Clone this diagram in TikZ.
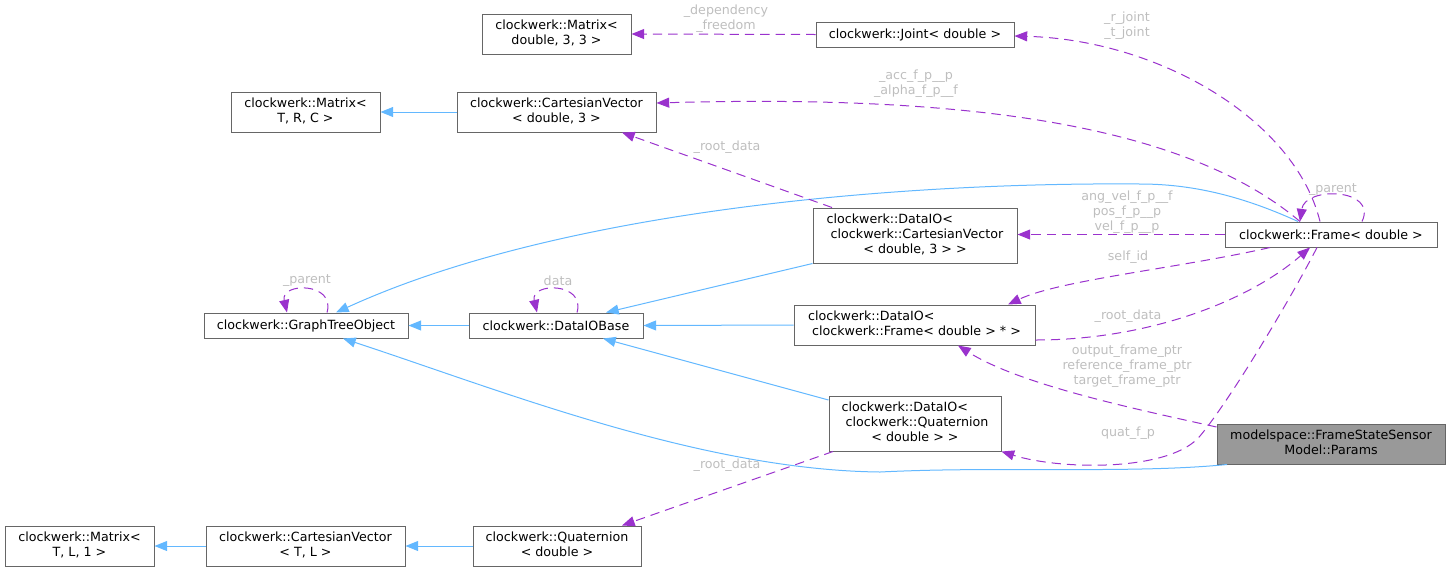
\documentclass[tikz,border=0pt]{standalone}
\usepackage{fontspec}
\setmainfont{DejaVu Sans}
\usetikzlibrary{arrows.meta}
\definecolor{boxgray}{HTML}{666666}
\definecolor{paramfill}{HTML}{999999}
\definecolor{inhblue}{HTML}{63B8FF}
\definecolor{usepurple}{HTML}{9A32CD}
\definecolor{lblgray}{HTML}{BEBEBE}
\newcommand\clsfont{\fontsize{9.5}{11.25}\selectfont}
\newcommand\clstab[1]{\begin{tabular}{@{}l@{}}#1\end{tabular}}
\newcommand\ctrline[1]{\multicolumn{1}{@{}c@{}}{#1}}
\begin{document}
\begin{tikzpicture}[x=0.75pt,y=-0.75pt,
 cls/.style={draw=boxgray, fill=white, line width=0.75pt, inner sep=0pt, font=\clsfont, text=black},
 inh/.style={draw=inhblue, line width=0.75pt, -{Triangle[length=9.5pt,width=7.5pt]}},
 use/.style={draw=usepurple, line width=0.75pt, dash pattern=on 7pt off 4.5pt, -{Triangle[length=9.5pt,width=7.5pt]}},
 lbl/.style={text=lblgray, font=\clsfont, align=center, inner sep=0pt}]
\useasboundingbox (0,0) rectangle (1451,572);

% classes
\node[cls, minimum width=111.75pt, minimum height=30pt] (md33) at (556.5,34) {\clstab{clockwerk::Matrix<\\\ctrline{double, 3, 3 >}}};
\node[cls, minimum width=148.5pt, minimum height=18.75pt] (joint) at (915,34.5) {clockwerk::Joint< double >};
\node[cls, minimum width=111.75pt, minimum height=30pt] (mtrc) at (305.5,112) {\clstab{clockwerk::Matrix<\\\ctrline{T, R, C >}}};
\node[cls, minimum width=149.25pt, minimum height=30pt] (cvd3) at (556.5,112) {\clstab{clockwerk::CartesianVector\\\ctrline{< double, 3 >}}};
\node[cls, minimum width=153pt, minimum height=18.75pt] (gto) at (306,325.5) {clockwerk::GraphTreeObject};
\node[cls, minimum width=130.5pt, minimum height=18.75pt] (dbase) at (556,325.5) {clockwerk::DataIOBase};
\node[cls, minimum width=153pt, minimum height=41.25pt] (diocv) at (915,235.5) {\clstab{clockwerk::DataIO<\\\ clockwerk::CartesianVector\\\ctrline{< double, 3 > >}}};
\node[cls, minimum width=180.75pt, minimum height=30pt] (dioframe) at (914.5,325) {\clstab{clockwerk::DataIO<\\\ clockwerk::Frame< double > * >}};
\node[cls, minimum width=159pt, minimum height=18.75pt] (frame) at (1331,234.5) {clockwerk::Frame< double >};
\node[cls, minimum width=129pt, minimum height=41.25pt] (dioquat) at (915,423.5) {\clstab{clockwerk::DataIO<\\\ clockwerk::Quaternion\\\ctrline{< double > >}}};
\node[cls, fill=paramfill, minimum width=171pt, minimum height=30pt] (params) at (1331,444) {\clstab{modelspace::FrameStateSensor\\\ctrline{Model::Params}}};
\node[cls, minimum width=111.75pt, minimum height=30pt] (mtl1) at (79.5,546) {\clstab{clockwerk::Matrix<\\\ctrline{T, L, 1 >}}};
\node[cls, minimum width=149.25pt, minimum height=30pt] (cvtl) at (305.5,546) {\clstab{clockwerk::CartesianVector\\\ctrline{< T, L >}}};
\node[cls, minimum width=126pt, minimum height=30pt] (quat) at (557,546) {\clstab{clockwerk::Quaternion\\\ctrline{< double >}}};

% inheritance
\draw[inh] (cvd3.west) -- (mtrc.east);
\draw[inh] (dbase.west) -- (gto.east);
\draw[inh] (diocv.south west) -- (dbase.north -| 606,0);
\draw[inh] (dioframe.west) -- (dbase.east);
\draw[inh] (dioquat.west |- 0,400) -- (dbase.south -| 603,0);
\draw[inh] (quat.west) -- (cvtl.east);
\draw[inh] (cvtl.west) -- (mtl1.east);
\draw[inh] (frame.north -| 1298,0) .. controls (1240,195) and (1190,184) .. (1140,184)
  .. controls (900,182) and (560,210) .. (gto.north -| 336,0);
\draw[inh] (params.south -| 1227,0) .. controls (1130,474) and (1000,466) .. (880,472)
  .. controls (700,470) and (500,390) .. (gto.south -| 343,0);

% usage
\draw[use] (joint.west) -- (md33.east);
\draw[use] (frame.north -| 1320,0) .. controls (1295,120) and (1160,40) .. (joint.east |- 0,36);
\draw[use] (frame.north -| 1300,0) .. controls (1180,120) and (950,95) .. (cvd3.east |- 0,103);
\draw[use] (diocv.north -| 832,0) -- (cvd3.south -| 622,0);
\draw[use] (gto.north -| 327,0) .. controls (336,282) and (280,282) .. (gto.north -| 287,0);
\draw[use] (dbase.north -| 577,0) .. controls (586,282) and (530,282) .. (dbase.north -| 537,0);
\draw[use] (frame.north -| 1362,0) .. controls (1378,188) and (1305,186) .. (frame.north -| 1300,0);
\draw[use] (frame.west) -- (frame.west -| diocv.east);
\draw[use] (frame.south -| 1270,0) .. controls (1180,268) and (1060,280) .. (dioframe.north -| 1008,0);
\draw[use] (dioframe.east |- 0,340) .. controls (1150,340) and (1250,300) .. (frame.south -| 1310,0);
\draw[use] (params.west |- 0,427) .. controls (1140,410) and (1020,385) .. (dioframe.south -| 958,0);
\draw[use] (frame.south -| 1317,0) .. controls (1290,300) and (1230,400) .. (1200,436)
  .. controls (1170,472) and (1060,470) .. (dioquat.south east);
\draw[use] (dioquat.south -| 833,0) -- (quat.north -| 622,0);

% labels
\node[lbl] (l1) at (726,19) {\_dependency\\\_freedom};
\node[lbl] (l2) at (1127,26) {\_r\_joint\\\_t\_joint};
\node[lbl] (l3) at (916,84) {\_acc\_f\_p\_\_p\\\_alpha\_f\_p\_\_f};
\node[lbl] (l4) at (727,147) {\_root\_data};
\node[lbl] (l5) at (307,281) {\_parent};
\node[lbl] (l6) at (558,281) {data};
\node[lbl] (l7) at (1333,190) {\_parent};
\node[lbl] (l8) at (1127,212) {ang\_vel\_f\_p\_\_f\\pos\_f\_p\_\_p\\vel\_f\_p\_\_p};
\node[lbl] (l9) at (1128,257) {self\_id};
\node[lbl] (l10) at (1128,316) {\_root\_data};
\node[lbl] (l11) at (1127,366) {output\_frame\_ptr\\reference\_frame\_ptr\\target\_frame\_ptr};
\node[lbl] (l12) at (1128,433) {quat\_f\_p};
\node[lbl] (l13) at (727,465) {\_root\_data};
\end{tikzpicture}
\end{document}
